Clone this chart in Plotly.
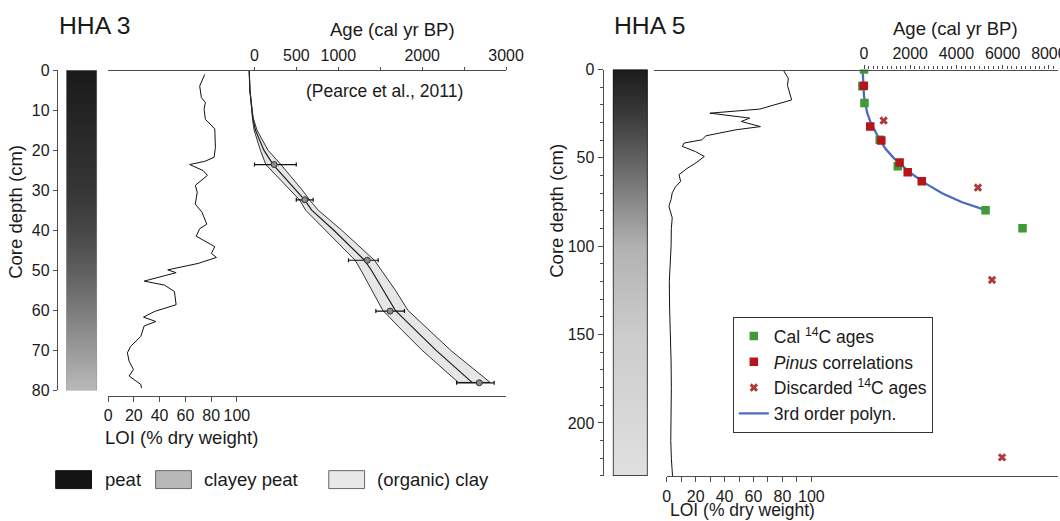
import plotly.graph_objects as go

# The photographed page shows the figure offset by the body's 8px margin and scaled by ~0.9707,
# so layout positions are written in photographed-window pixels and converted here.
S = 0.9707
OFF = 8
W, H = 1076, 521
FONT = "Liberation Sans, Arial, Helvetica, sans-serif"
TXT = "#1a1a1a"
AX = "#4d4d4d"
RIGHT = S * (W + OFF)  # window pixel of the figure's right edge

# ---------------- HHA 3 data ----------------
hha3_litho_depth = [0, 10, 20, 30, 40, 50, 60, 70, 80]
hha3_loi_depth = [1.1, 4.0, 6.9, 8.1, 9.8, 12.3, 14.7, 19.3, 21.8, 22.8, 23.6, 25.1, 26.3, 28.8, 30.5,
                  33.5, 35.5, 38.5, 39.6, 41.5, 44.1, 45.8, 46.8, 48.3, 49.9, 50.6, 52.7, 53.7, 55.3,
                  58.6, 60.3, 61.7, 62.8, 63.9, 66.5, 69.0, 70.6, 72.7, 74.8, 76.4, 78.5, 79.4]
hha3_loi = [75.0, 71.1, 72.4, 75.5, 74.5, 75.5, 82.8, 83.3, 82.3, 75.0, 63.3, 73.7, 77.1, 67.7, 69.2,
            67.7, 72.9, 76.6, 71.1, 68.4, 82.8, 80.2, 84.1, 69.8, 46.3, 52.8, 28.0, 43.7, 51.5,
            52.8, 35.9, 27.5, 37.1, 28.0, 25.4, 17.5, 15.0, 16.3, 19.7, 16.3, 25.4, 25.9]
hha3_model_depth = [0, 5, 10, 12, 15, 20, 23.6, 30, 32.5, 35, 40, 47.5, 50, 55, 60, 65, 70, 78]
hha3_model_mid = [-63, -55, -30, -20, 11, 112, 222, 498, 600, 682, 946, 1312, 1394, 1536, 1679, 1922, 2166, 2594]
hha3_model_lo = [-63, -55, -32, -25, -5, 70, 135, 420, 540, 610, 850, 1200, 1270, 1400, 1530, 1760, 2000, 2430]
hha3_model_hi = [-63, -55, -28, -15, 30, 160, 315, 570, 660, 760, 1040, 1430, 1510, 1680, 1830, 2090, 2340, 2810]
hha3_date_depth = [23.6, 32.4, 47.5, 60.2, 78.1]
hha3_date_age = [235, 600, 1345, 1617, 2680]
hha3_date_err_minus = [235, 102, 224, 170, 270]
hha3_date_err_plus = [263, 100, 130, 171, 178]
hha3_depth_ticks = [0, 10, 20, 30, 40, 50, 60, 70, 80]
hha3_loi_ticks = [0, 20, 40, 60, 80, 100]
hha3_age_ticks = [0, 500, 1000, 2000, 3000]
hha3_age_minor_ticks = [1500, 2500]

litho_names = ["peat", "clayey peat", "(organic) clay"]
litho_colors = ["#141414", "#b8b8b8", "#e8e8e8"]

# ---------------- HHA 5 data ----------------
hha5_litho_depth = [0, 25, 50, 75, 100, 150, 200, 230]
hha5_loi_depth = [0.3, 5.0, 9.0, 13.4, 17.2, 22.4, 24.7, 27.5, 29.4, 32.3, 34.1, 37.5, 39.8, 41.6, 43.5,
                  46.5, 49.2, 52.9, 56, 59.5, 63.3, 66.5, 69.8, 73.5, 77.4, 83.9, 90, 100, 110, 120,
                  135, 150, 165, 180, 195, 210, 220, 230]
hha5_loi = [80.6, 84.1, 83.5, 85.3, 86.4, 64.3, 29.9, 57.4, 51.5, 64.8, 48.0, 27.1, 24.3, 12.0, 10.8,
            20.0, 26.0, 20.1, 14.0, 8.5, 9.6, 6.0, 3.8, 3.0, 1.5, 3.8, 3.2, 3.0, 2.5, 1.8,
            2.0, 2.6, 3.0, 3.2, 3.0, 2.8, 3.2, 4.0]
cal14c_depth = [0, 9.4, 19.0, 39.8, 54.8, 79.6, 89.8]
cal14c_age = [0, -70, 20, 680, 1460, 5260, 6860]
pinus_depth = [9.2, 32.3, 40.1, 52.6, 58.2, 63.3]
pinus_age = [-10, 270, 750, 1540, 1890, 2500]
discarded_depth = [28.9, 66.8, 119.1, 219.5]
discarded_age = [850, 4930, 5540, 5975]
poly_depth = [0, 5, 10, 15, 20, 25, 30, 35, 40, 45, 50, 55, 60, 65, 70, 75, 79.6]
poly_age = [-60, -50, -30, 0, 60, 150, 290, 480, 690, 940, 1280, 1700, 2170, 2730, 3380, 4220, 5260]
hha5_depth_ticks = [0, 50, 100, 150, 200]
hha5_depth_minor = [d for d in range(0, 231, 10) if d % 50]
hha5_loi_ticks = [0, 20, 40, 60, 80, 100]
hha5_loi_minor = [10, 30, 50, 70, 90]
hha5_age_ticks = [0, 2000, 4000, 6000, 8000]
hha5_age_minor = [a for a in range(200, 8601, 200) if a % 2000]


def px(w):
    return (w / S - OFF) / W


def py(w):
    return 1 - (w / S - OFF) / H


def fs(size):
    return size / S


fig = go.Figure()

# ---- HHA 3 lithology column ----
fig.add_trace(go.Heatmap(
    x=[0, 1], y=hha3_litho_depth, z=[[d, d] for d in hha3_litho_depth],
    zmin=0, zmax=80, zsmooth="best", showscale=False, hoverinfo="skip",
    colorscale=[[0, "#1a1a1a"], [0.375, "#363636"], [0.5, "#474747"], [0.625, "#5f5f5f"],
                [0.75, "#7c7c7c"], [0.875, "#9b9b9b"], [1, "#bababa"]],
    xaxis="x", yaxis="y"))

# ---- HHA 3 LOI ----
fig.add_trace(go.Scatter(x=hha3_loi, y=hha3_loi_depth, mode="lines",
                         line=dict(color="#111111", width=1), showlegend=False,
                         xaxis="x2", yaxis="y"))

# ---- HHA 3 age model band ----
fig.add_trace(go.Scatter(
    x=hha3_model_lo + hha3_model_hi[::-1], y=hha3_model_depth + hha3_model_depth[::-1],
    mode="lines", fill="toself", fillcolor="#e6e6e6", line=dict(color="#333333", width=1),
    showlegend=False, xaxis="x3", yaxis="y"))
fig.add_trace(go.Scatter(x=hha3_model_mid, y=hha3_model_depth, mode="lines",
                         line=dict(color="#222222", width=1.2), showlegend=False,
                         xaxis="x3", yaxis="y"))
fig.add_trace(go.Scatter(
    x=hha3_date_age, y=hha3_date_depth, mode="markers",
    marker=dict(symbol="circle", size=6, color="#8c8c8c", line=dict(color="#333333", width=1)),
    error_x=dict(type="data", symmetric=False, array=hha3_date_err_plus,
                 arrayminus=hha3_date_err_minus, color="#111111", thickness=1.2, width=2),
    showlegend=False, xaxis="x3", yaxis="y"))

# ---- HHA 5 lithology column ----
fig.add_trace(go.Heatmap(
    x=[0, 1], y=hha5_litho_depth, z=[[d, d] for d in hha5_litho_depth],
    zmin=0, zmax=230, zsmooth="best", showscale=False, hoverinfo="skip",
    colorscale=[[0, "#1c1c1c"], [0.109, "#3a3a3a"], [0.217, "#606060"], [0.326, "#8a8a8a"],
                [0.435, "#b2b2b2"], [0.652, "#cccccc"], [0.87, "#d8d8d8"], [1, "#e0e0e0"]],
    xaxis="x4", yaxis="y2"))

# ---- HHA 5 LOI ----
fig.add_trace(go.Scatter(x=hha5_loi, y=hha5_loi_depth, mode="lines",
                         line=dict(color="#111111", width=1), showlegend=False,
                         xaxis="x5", yaxis="y2"))

# ---- HHA 5 ages ----
fig.add_trace(go.Scatter(x=poly_age, y=poly_depth, mode="lines", name="3rd order polyn.",
                         line=dict(color="#4a6bbf", width=2.3), legendrank=4,
                         xaxis="x6", yaxis="y2"))
fig.add_trace(go.Scatter(x=cal14c_age, y=cal14c_depth, mode="markers", name="Cal <sup>14</sup>C ages",
                         marker=dict(symbol="square", size=8.5, color="#3f9a35"), legendrank=1,
                         xaxis="x6", yaxis="y2"))
fig.add_trace(go.Scatter(x=pinus_age, y=pinus_depth, mode="markers", name="<i>Pinus</i> correlations",
                         marker=dict(symbol="square", size=8.5, color="#b5161b"), legendrank=2,
                         xaxis="x6", yaxis="y2"))
fig.add_trace(go.Scatter(x=discarded_age, y=discarded_depth, mode="markers",
                         name="Discarded <sup>14</sup>C ages",
                         marker=dict(symbol="x", size=7.5, color="#b03a3a"), legendrank=3,
                         xaxis="x6", yaxis="y2"))

tickfont = dict(family=FONT, size=fs(15.5), color=TXT)
axcommon = dict(showgrid=False, zeroline=False, showline=True, linecolor=AX, linewidth=1.2,
                ticks="outside", tickcolor=AX, tickwidth=1, tickfont=tickfont, fixedrange=True)

fig.update_layout(
    width=W, height=H, autosize=False,
    margin=dict(l=0, r=0, t=0, b=0),
    paper_bgcolor="white", plot_bgcolor="rgba(0,0,0,0)",
    font=dict(family=FONT, color=TXT),
    xaxis=dict(domain=[px(69.3), px(100)], range=[0, 1], visible=False, anchor="y", fixedrange=True),
    yaxis=dict(domain=[py(391.5), py(70)], range=[80, 0], anchor="free", position=px(60.2),
               side="left", tickvals=hha3_depth_ticks, ticklen=4, **axcommon),
    xaxis2=dict(domain=[px(110.9), px(505.3)], range=[0, (505.3 - 110.9) / 1.277], anchor="free",
                position=py(396.6), side="bottom", tickvals=hha3_loi_ticks, ticklen=5, **axcommon),
    xaxis3=dict(domain=[px(110.5), px(505.3)], range=[(110.5 - 256) / 0.0831, 3000], anchor="free",
                position=py(70), side="top", tickvals=hha3_age_ticks, ticklen=3,
                minor=dict(tickvals=hha3_age_minor_ticks, ticklen=3, ticks="outside", tickcolor=AX),
                **axcommon),
    xaxis4=dict(domain=[px(611.1), px(645.6)], range=[0, 1], visible=False, anchor="y2", fixedrange=True),
    yaxis2=dict(domain=[py(477.3), py(69.5)], range=[230, 0], anchor="free", position=px(601),
                side="left", tickvals=hha5_depth_ticks, ticklen=5,
                minor=dict(tickvals=hha5_depth_minor, ticklen=3, ticks="outside", tickcolor=AX),
                **axcommon),
    xaxis5=dict(domain=[px(664.5), 1], range=[0, (RIGHT - 664.5) / 1.433], anchor="free",
                position=py(477.7), side="bottom", tickvals=hha5_loi_ticks, ticklen=5,
                minor=dict(tickvals=hha5_loi_minor, ticklen=5, ticks="outside", tickcolor=AX),
                **axcommon),
    xaxis6=dict(domain=[px(651.7), 1], range=[(651.7 - 860) / 0.0229, (RIGHT - 860) / 0.0229],
                anchor="free", position=py(69.5), side="top", tickvals=hha5_age_ticks, ticklen=4,
                minor=dict(tickvals=hha5_age_minor, ticklen=3, ticks="outside", tickcolor=AX),
                **axcommon),
    legend=dict(x=px(730), y=py(318), xanchor="left", yanchor="top", bordercolor="#333333",
                borderwidth=1, bgcolor="white", font=dict(family=FONT, size=fs(17), color=TXT),
                tracegroupgap=0, itemwidth=30),
)

# column borders
fig.add_shape(type="rect", xref="x", yref="y", x0=0, x1=1, y0=0, y1=80,
              line=dict(color="#999999", width=1))
fig.add_shape(type="rect", xref="x4", yref="y2", x0=0, x1=1, y0=0, y1=230,
              line=dict(color="#111111", width=1.5))

# lithology legend (HHA 3)
box_x = [59, 158, 329.6]
text_x = [105.5, 203.8, 375]
for name, col, bx, tx in zip(litho_names, litho_colors, box_x, text_x):
    fig.add_shape(type="rect", xref="paper", yref="paper", x0=px(bx), x1=px(bx + 35.5),
                  y0=py(490), y1=py(472), fillcolor=col,
                  line=dict(color="#111111" if name == "peat" else "#666666", width=1))
    fig.add_annotation(text=name, x=px(tx), y=py(481), xref="paper", yref="paper",
                       xanchor="left", yanchor="middle", showarrow=False,
                       font=dict(family=FONT, size=fs(18), color=TXT))


def ann(text, x, y, size, xanchor="center", angle=0):
    fig.add_annotation(text=text, x=px(x), y=py(y), xref="paper", yref="paper",
                       xanchor=xanchor, yanchor="middle", showarrow=False, textangle=angle,
                       font=dict(family=FONT, size=fs(size), color=TXT))


ann("HHA 3", 60, 25, 24, "left")
ann("HHA 5", 610, 25.5, 24, "left")
ann("Age (cal yr BP)", 393, 29, 18)
ann("Age (cal yr BP)", 950.5, 28, 18)
ann("(Pearce et al., 2011)", 384.5, 91, 17)
ann("LOI (% dry weight)", 184, 439, 18)
ann("LOI (% dry weight)", 740, 511.5, 17)
ann("Core depth (cm)", 19, 212, 18, angle=-90)
ann("Core depth (cm)", 555, 211, 18, angle=-90)

fig.write_html("out.html")
